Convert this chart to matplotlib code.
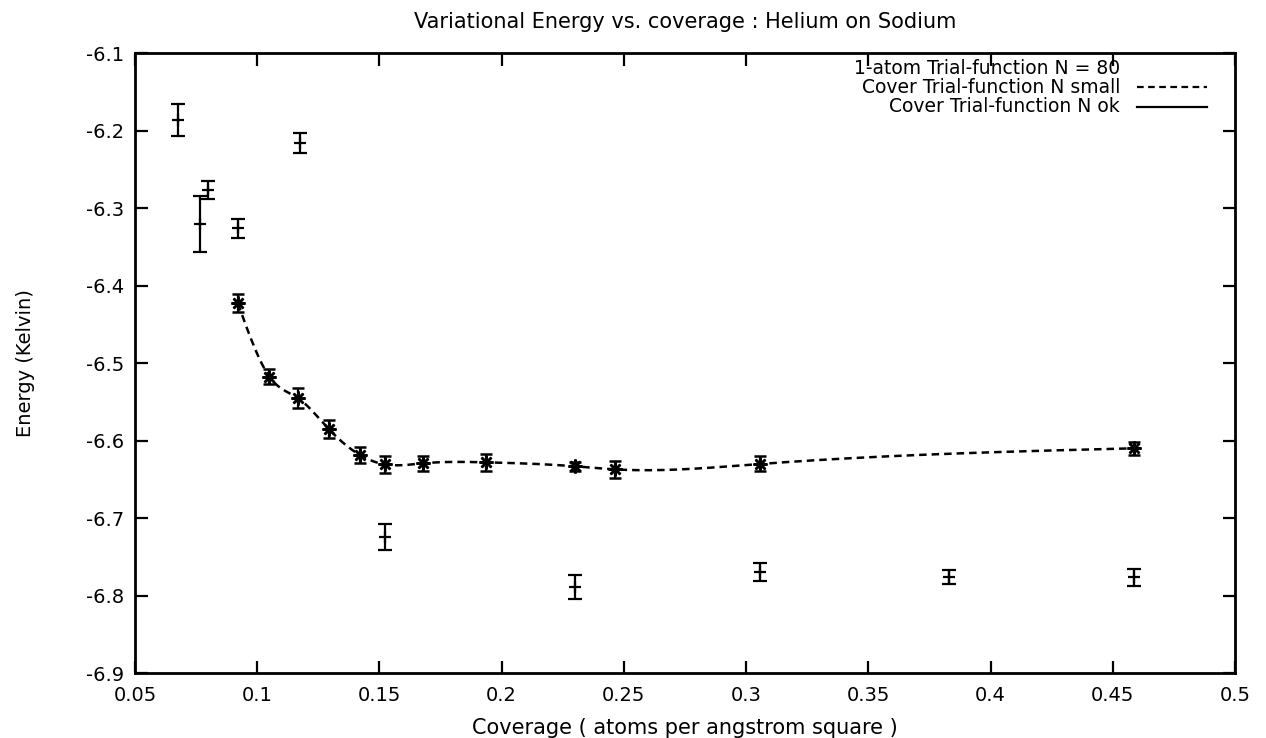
import numpy as np
import matplotlib
matplotlib.use("Agg")
import matplotlib.pyplot as plt

plt.rcParams['font.family'] = ['DejaVu Sans']

# 1-atom trial function, N = 80
one_atom_x = [0.0677, 0.0766, 0.0800, 0.0921, 0.1175, 0.1521, 0.2300, 0.3058, 0.3829, 0.4588]
one_atom_y = [-6.186, -6.320, -6.2765, -6.326, -6.216, -6.724, -6.789, -6.770, -6.776, -6.776]
one_atom_err = [0.021, 0.036, 0.011, 0.012, 0.0125, 0.0166, 0.0153, 0.0116, 0.009, 0.011]

# cover trial function
cover_x = [0.0921, 0.1050, 0.1168, 0.1294, 0.1421, 0.1521, 0.1677, 0.1935,
           0.2300, 0.2464, 0.3058, 0.4588]
cover_y = [-6.4227, -6.5174, -6.5453, -6.5853, -6.6185, -6.6305, -6.6292,
           -6.6279, -6.633, -6.637, -6.630, -6.6098]
cover_err = [0.0116, 0.0097, 0.0127, 0.0118, 0.0103, 0.0114, 0.010, 0.0107,
             0.006, 0.0108, 0.0097, 0.0086]

x_ticks = [0.05, 0.1, 0.15, 0.2, 0.25, 0.3, 0.35, 0.4, 0.45, 0.5]
x_tick_labels = ['0.05', '0.1', '0.15', '0.2', '0.25', '0.3', '0.35', '0.4', '0.45', '0.5']
y_ticks = [-6.9, -6.8, -6.7, -6.6, -6.5, -6.4, -6.3, -6.2, -6.1]
y_tick_labels = ['-6.9', '-6.8', '-6.7', '-6.6', '-6.5', '-6.4', '-6.3', '-6.2', '-6.1']


def natural_spline(x, y, n=600):
    """Natural cubic spline through (x, y), like gnuplot's smooth csplines."""
    x = np.asarray(x, float)
    y = np.asarray(y, float)
    k = len(x)
    h = np.diff(x)
    a = np.zeros((k, k))
    b = np.zeros(k)
    a[0, 0] = a[-1, -1] = 1.0
    for i in range(1, k - 1):
        a[i, i - 1] = h[i - 1]
        a[i, i] = 2 * (h[i - 1] + h[i])
        a[i, i + 1] = h[i]
        b[i] = 6 * ((y[i + 1] - y[i]) / h[i] - (y[i] - y[i - 1]) / h[i - 1])
    m = np.linalg.solve(a, b)
    xs = np.linspace(x[0], x[-1], n)
    idx = np.clip(np.searchsorted(x, xs) - 1, 0, k - 2)
    x0, x1 = x[idx], x[idx + 1]
    y0, y1 = y[idx], y[idx + 1]
    m0, m1 = m[idx], m[idx + 1]
    hh = x1 - x0
    t0 = x1 - xs
    t1 = xs - x0
    ys = (m0 * t0 ** 3 + m1 * t1 ** 3) / (6 * hh) \
        + (y0 / hh - m0 * hh / 6) * t0 + (y1 / hh - m1 * hh / 6) * t1
    return xs, ys


fig = plt.figure(figsize=(12.66, 7.38), dpi=100)
ax = fig.add_axes([0.1066, 0.0878, 0.8689, 0.8401])

ax.errorbar(one_atom_x, one_atom_y, yerr=one_atom_err, fmt='+', color='black',
            markersize=8, mew=1.6, elinewidth=1.6, capsize=5, capthick=1.8)

sx, sy = natural_spline(cover_x, cover_y)
ax.plot(sx, sy, color='black', lw=1.8, dashes=(3.0, 2.0))

ax.errorbar(cover_x, cover_y, yerr=cover_err, fmt='none', ecolor='black',
            elinewidth=1.6, capsize=4, capthick=1.8)
ax.plot(cover_x, cover_y, ls='none', marker=(8, 2, 0), color='black',
        markersize=10, mew=1.8)

ax.set_xlim(0.05, 0.5)
ax.set_ylim(-6.9, -6.1)
ax.set_xticks(x_ticks)
ax.set_xticklabels(x_tick_labels)
ax.set_yticks(y_ticks)
ax.set_yticklabels(y_tick_labels)
ax.tick_params(direction='in', length=9, width=1.6, top=True, right=True,
               labelsize=14)
ax.tick_params(axis='x', pad=9)
ax.tick_params(axis='y', pad=8)
for side in ax.spines.values():
    side.set_linewidth(2)

# key in gnuplot style: right-aligned text, sample line to its right
key_labels = ['1-atom Trial-function N = 80',
              'Cover Trial-function N small',
              'Cover Trial-function N ok']
row_y = [0.976, 0.945, 0.914]
for label, yy in zip(key_labels, row_y):
    ax.text(0.8955, yy, label, transform=ax.transAxes, ha='right', va='center',
            fontsize=13.5)
small_line, = ax.plot([0.911, 0.975], [row_y[1], row_y[1]], transform=ax.transAxes,
                      color='black', lw=1.6)
small_line.set_dashes((3.0, 2.0))
ax.plot([0.911, 0.975], [row_y[2], row_y[2]], transform=ax.transAxes,
        color='black', lw=1.6)

fig.text(0.541, 0.970, 'Variational Energy vs. coverage : Helium on Sodium',
         ha='center', va='center', fontsize=15)
fig.text(0.541, 0.0135, 'Coverage ( atoms per angstrom square )',
         ha='center', va='center', fontsize=15)
fig.text(0.0205, 0.508, 'Energy (Kelvin)', rotation=90,
         ha='center', va='center', fontsize=14)

fig.savefig('out.png', dpi=100)
